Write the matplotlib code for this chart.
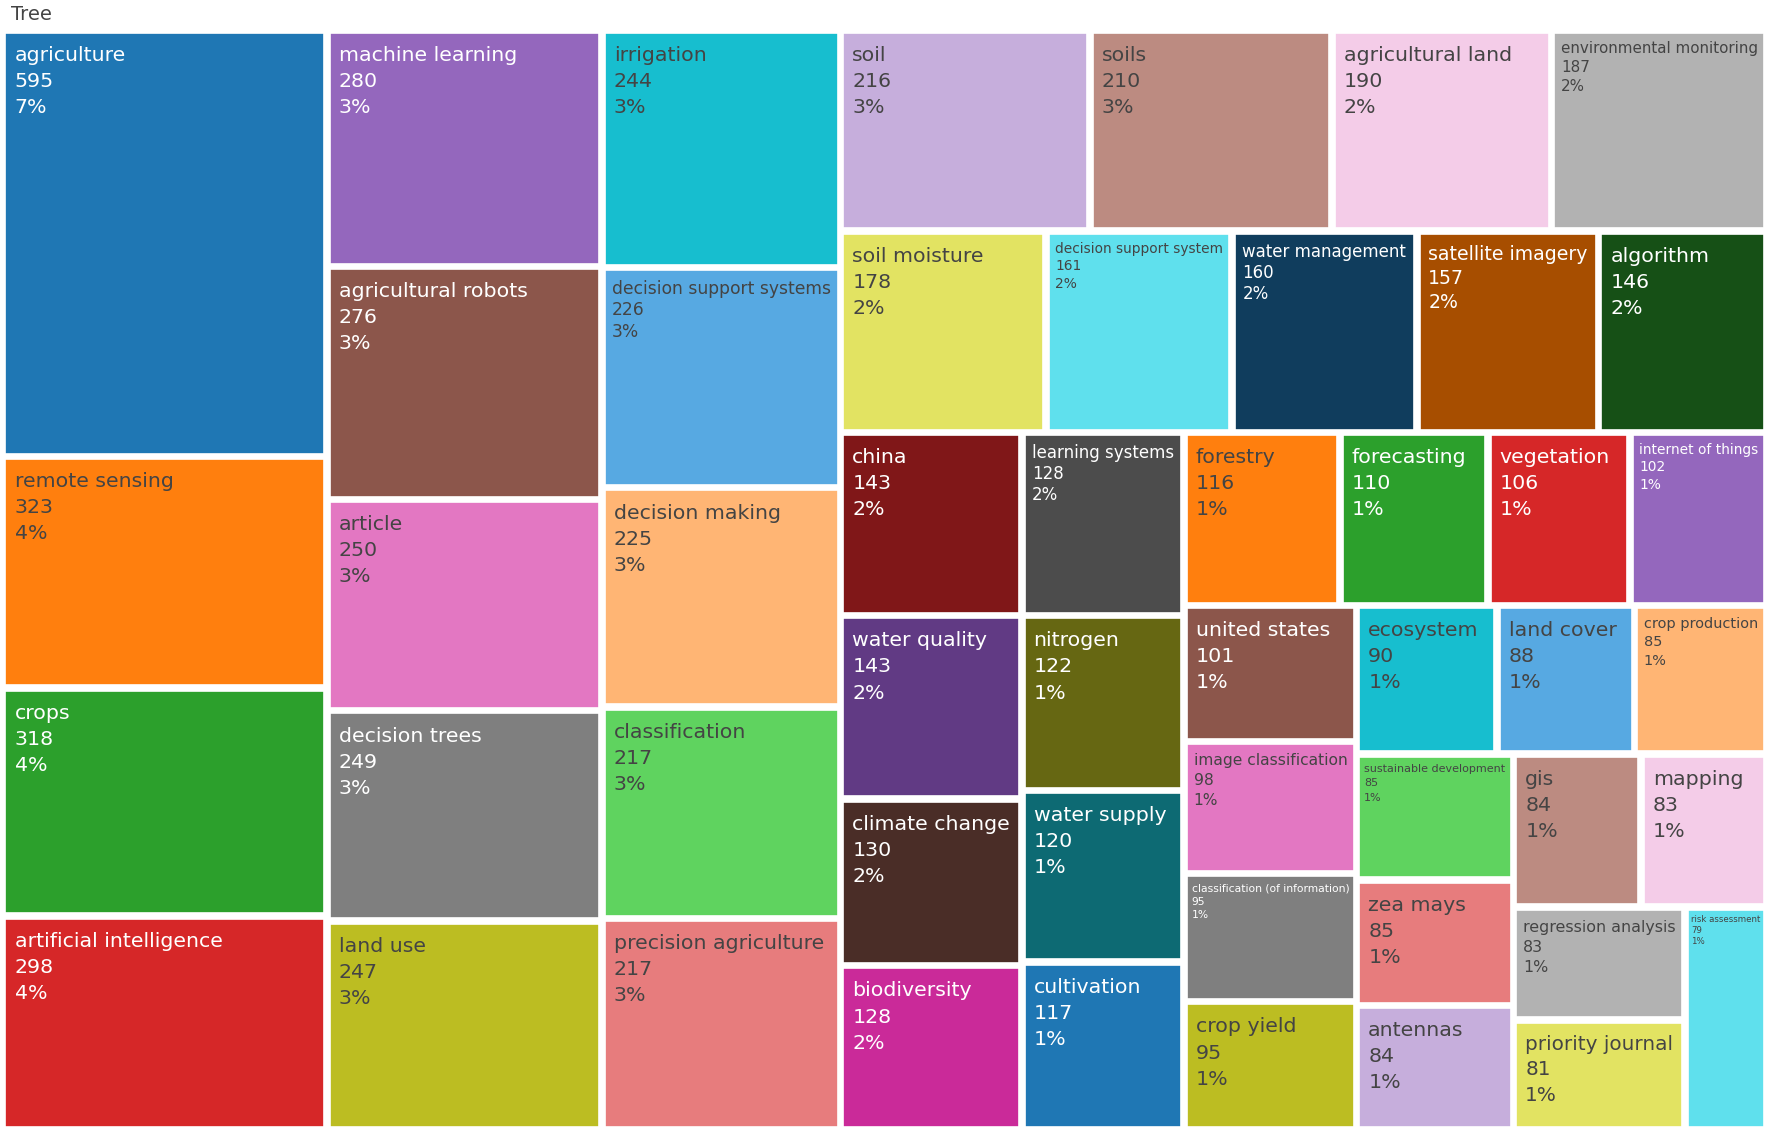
import colorsys

import matplotlib
matplotlib.use("Agg")
import matplotlib.pyplot as plt
from matplotlib.colors import to_rgb, to_hex
from matplotlib.font_manager import FontProperties
from matplotlib.patches import Rectangle

root_label = "Tree"

labels = [
    "agriculture", "remote sensing", "crops", "artificial intelligence",
    "machine learning", "agricultural robots", "article", "decision trees",
    "land use", "irrigation", "decision support systems", "decision making",
    "classification", "precision agriculture", "soil", "soils",
    "agricultural land", "environmental monitoring", "soil moisture",
    "decision support system", "water management", "satellite imagery",
    "algorithm", "china", "water quality", "climate change", "biodiversity",
    "learning systems", "nitrogen", "water supply", "cultivation", "forestry",
    "forecasting", "vegetation", "internet of things", "united states",
    "image classification", "classification (of information)", "crop yield",
    "ecosystem", "land cover", "crop production", "sustainable development",
    "zea mays", "antennas", "gis", "mapping", "regression analysis",
    "priority journal", "risk assessment",
]
values = [
    595, 323, 318, 298,
    280, 276, 250, 249,
    247, 244, 226, 225,
    217, 217, 216, 210,
    190, 187, 178,
    161, 160, 157,
    146, 143, 143, 130, 128,
    128, 122, 120, 117, 116,
    110, 106, 102, 101,
    98, 95, 95,
    90, 88, 85, 85,
    85, 84, 84, 83, 83,
    81, 79,
]

colorway = ["#1f77b4", "#ff7f0e", "#2ca02c", "#d62728", "#9467bd",
            "#8c564b", "#e377c2", "#7f7f7f", "#bcbd22", "#17becf"]


def shift_lightness(c, amount):
    h, l, s = colorsys.rgb_to_hls(*to_rgb(c))
    l = min(1, max(0, l + amount))
    return to_hex(colorsys.hls_to_rgb(h, l, s))


# plotly-style extended colorway: base, lighter, darker
ext_colors = (colorway
              + [shift_lightness(c, 0.2) for c in colorway]
              + [shift_lightness(c, -0.2) for c in colorway])


def is_dark(c):
    r, g, b = [v * 255 for v in to_rgb(c)]
    return (r * 299 + g * 587 + b * 114) / 1000 < 128


def squarify(vals, x0, y0, x1, y1, ratio=1.0):
    # port of d3 treemapSquarify
    rects = []
    value = float(sum(vals))
    n = len(vals)
    i0 = i1 = 0
    while i0 < n:
        dx, dy = x1 - x0, y1 - y0
        sum_v = vals[i1]
        i1 += 1
        min_v = max_v = sum_v
        alpha = max(dy / dx, dx / dy) / (value * ratio)
        beta = sum_v * sum_v * alpha
        min_ratio = max(max_v / beta, beta / min_v)
        while i1 < n:
            v = vals[i1]
            sum_v += v
            min_v = min(min_v, v)
            max_v = max(max_v, v)
            beta = sum_v * sum_v * alpha
            new_ratio = max(max_v / beta, beta / min_v)
            if new_ratio > min_ratio:
                sum_v -= v
                break
            min_ratio = new_ratio
            i1 += 1
        row = vals[i0:i1]
        if dx < dy:
            yb = y0 + dy * sum_v / value
            xx = x0
            for v in row:
                w = dx * v / sum_v
                rects.append((xx, y0, xx + w, yb))
                xx += w
            y0 = yb
        else:
            xb = x0 + dx * sum_v / value
            yy = y0
            for v in row:
                h = dy * v / sum_v
                rects.append((x0, yy, xb, yy + h))
                yy += h
            x0 = xb
        value -= sum_v
        i0 = i1
    return rects


W, H = 1772, 1136
fig = plt.figure(figsize=(W / 100, H / 100), dpi=100)
ax = fig.add_axes([0, 0, 1, 1])
ax.set_xlim(0, W)
ax.set_ylim(H, 0)
ax.axis("off")

pad_inner = 5.5
left, top, right, bottom = 5.5, 32.5, 1764.5, 1127.0
tx0, tx1 = left - pad_inner / 2, right + pad_inner / 2
ty0, ty1 = top - pad_inner / 2, bottom + pad_inner / 2
# tile in a slightly taller box, then map back onto the drawing area
stretch = 1.04
rects = squarify(values, tx0, 0, tx1, (ty1 - ty0) * stretch)
rects = [(a, ty0 + b / stretch, c, ty0 + d / stretch) for a, b, c, d in rects]

total = sum(values)
F = 20.5  # text size in px
renderer = fig.canvas.get_renderer()

ax.text(11, 20, root_label, fontsize=19.5 * 0.72, color="#444444",
        va="baseline", ha="left")

for i, (lab, v, r) in enumerate(zip(labels, values, rects)):
    x0, y0, x1, y1 = r
    x0 += pad_inner / 2
    y0 += pad_inner / 2
    x1 -= pad_inner / 2
    y1 -= pad_inner / 2
    col = ext_colors[i % len(ext_colors)]
    ax.add_patch(Rectangle((x0, y0), x1 - x0, y1 - y0, facecolor=col,
                           edgecolor="white", linewidth=1.2))
    lines = [lab, str(v), "%d%%" % round(100 * v / total)]
    fp = FontProperties(size=F * 0.72)
    tw = max(renderer.get_text_width_height_descent(t, fp, ismath=False)[0]
             for t in lines)
    s = min(1.0, (x1 - x0) / (tw + 0.9 * F), (y1 - y0) / (4.3 * F))
    fs = F * s
    tc = "white" if is_dark(col) else "#444444"
    for k, t in enumerate(lines):
        ax.text(x0 + 0.44 * fs, y0 + 1.37 * fs + k * 1.27 * fs, t,
                fontsize=fs * 0.72, color=tc, ha="left", va="baseline")

fig.savefig("out.png", dpi=100)
